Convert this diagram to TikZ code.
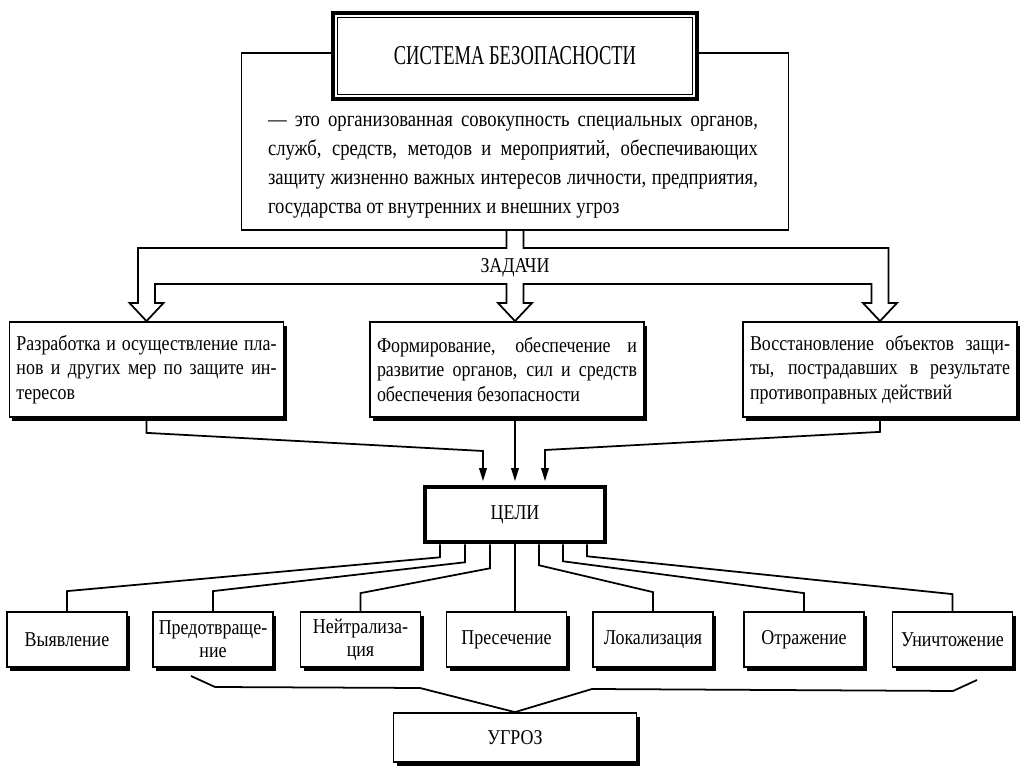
\documentclass[tikz,border=0pt]{standalone}
\usepackage{fontspec}
\setmainfont[FakeStretch=0.85]{Liberation Serif}
\newfontfamily\titlefont[FakeStretch=0.68]{Liberation Serif}
\usetikzlibrary{arrows.meta, positioning, calc, shadows}

\begin{document}
\begin{tikzpicture}[
  font=\fontsize{12}{14}\selectfont,
  frame/.style={rectangle, draw, line width=1pt, fill=white},
  shadowed/.style={drop shadow={shadow xshift=0.06cm, shadow yshift=-0.09cm, opacity=1, fill=black}},
  taskbox/.style={frame, shadowed, minimum width=5.48cm, minimum height=1.9cm,
                  text width=5.2cm, align=justify, inner sep=0pt},
  goalbox/.style={frame, shadowed, minimum width=2.4cm, minimum height=1.1cm,
                  align=center, inner sep=1pt, font=\fontsize{12}{13}\selectfont},
  link/.style={line width=1pt},
  arr/.style={link, -{Triangle[length=2.6mm, width=1.5mm]}, shorten >=2pt}]

  \useasboundingbox (0,0) rectangle (20.48,-15.34);

  % definition and title
  \node[frame, minimum width=10.94cm, minimum height=3.54cm] (defbox) at (10.30,-2.83) {};
  \node[frame, line width=2.4pt, minimum width=7.28cm, minimum height=1.72cm,
        font=\titlefont\fontsize{15.5}{17}\selectfont] (title) at (10.30,-1.12) {СИСТЕМА БЕЗОПАСНОСТИ};
  \draw[line width=0.8pt] ([shift={(0.13,-0.13)}]title.north west) rectangle ([shift={(-0.13,0.13)}]title.south east);
  \node[text width=9.8cm, align=justify, inner sep=0pt,
        font=\fontsize{12.5}{16.4}\selectfont] (deftext) at (10.26,-3.34)
    {— это организованная совокупность специальных органов,\linebreak
     служб, средств, методов и мероприятий, обеспечивающих\linebreak
     защиту жизненно важных интересов личности, предприятия,\linebreak
     государства от внутренних и внешних угроз};

  % tasks
  \node[taskbox] (task1) at (2.93,-7.39)
    {Разработка и осуществление пла-\linebreak нов и других мер по защите ин-\linebreak тересов};
  \node[taskbox] (task2) at (10.14,-7.39)
    {Формирование, обеспечение и\linebreak развитие органов, сил и средств\linebreak обеспечения безопасности};
  \node[taskbox] (task3) at (17.60,-7.39)
    {Восстановление объектов защи-\linebreak ты, пострадавших в результате\linebreak противоправных действий};

  \draw[line width=1pt] ([xshift=-0.17cm]defbox.south) |- (2.76,-4.96) -- (2.76,-6.06) -- (2.59,-6.06)
    -- (task1.north) -- (3.27,-6.06) -- (3.10,-6.06) |- (10.13,-5.68) -- (10.13,-6.06) -- (9.96,-6.06)
    -- (defbox.south |- task2.north) -- (10.64,-6.06) -- (10.47,-6.06) |- (17.43,-5.68) -- (17.43,-6.06)
    -- (17.26,-6.06) -- (task3.north) -- (17.94,-6.06) -- (17.77,-6.06) |- (10.47,-4.96)
    -- ([xshift=0.17cm]defbox.south);
  \node (zadachi) at (10.30,-5.36) {ЗАДАЧИ};

  % goals
  \node[frame, line width=2.6pt, minimum width=3.6cm, minimum height=1.1cm] (celi) at (10.30,-10.29) {ЦЕЛИ};

  \draw[arr] (task1.south) -- ++(0,-0.3) -- (9.66,-9.02) -- ([xshift=-0.64cm]celi.north);
  \draw[arr] (celi.north |- task2.south) -- (celi.north);
  \draw[arr] (task3.south) -- ++(0,-0.28) -- (10.90,-9.0) -- ([xshift=0.60cm]celi.north);

  \node[goalbox] (vyyavl) at (1.34,-12.79) {Выявление};
  \node[goalbox] (predotv) at (4.26,-12.79) {Предотвраще-\\ние};
  \node[goalbox] (neitr) at (7.21,-12.79) {Нейтрализа-\\ция};
  \node[goalbox] (presech) at (10.13,-12.79) {Пресечение};
  \node[goalbox] (lokal) at (13.06,-12.79) {Локализация};
  \node[goalbox] (otrazh) at (16.08,-12.79) {Отражение};
  \node[goalbox] (unichtozh) at (19.05,-12.79) {Уничтожение};

  \draw[link] ([xshift=-1.5cm]celi.south) -- ++(0,-0.26) -- ($(vyyavl.north)+(0,0.4)$) -- (vyyavl.north);
  \draw[link] ([xshift=-1.0cm]celi.south) -- ++(0,-0.36) -- ($(predotv.north)+(0,0.4)$) -- (predotv.north);
  \draw[link] ([xshift=-0.5cm]celi.south) -- ++(0,-0.48) -- ($(neitr.north)+(0,0.36)$) -- (neitr.north);
  \draw[link] (celi.south) -- (celi.south |- presech.north);
  \draw[link] ([xshift=0.48cm]celi.south) -- ++(0,-0.42) -- ($(lokal.north)+(0,0.38)$) -- (lokal.north);
  \draw[link] ([xshift=0.96cm]celi.south) -- ++(0,-0.34) -- ($(otrazh.north)+(0,0.36)$) -- (otrazh.north);
  \draw[link] ([xshift=1.44cm]celi.south) -- ++(0,-0.24) -- ($(unichtozh.north)+(0,0.34)$) -- (unichtozh.north);

  % threats
  \node[frame, shadowed, minimum width=4.86cm, minimum height=0.98cm] (ugroz) at (10.30,-14.75) {УГРОЗ};
  \draw[link] (3.82,-13.52) -- (4.30,-13.74) -- (8.40,-13.76) -- (ugroz.north) -- (11.84,-13.78)
    -- (19.06,-13.82) -- (19.54,-13.60);
\end{tikzpicture}
\end{document}
